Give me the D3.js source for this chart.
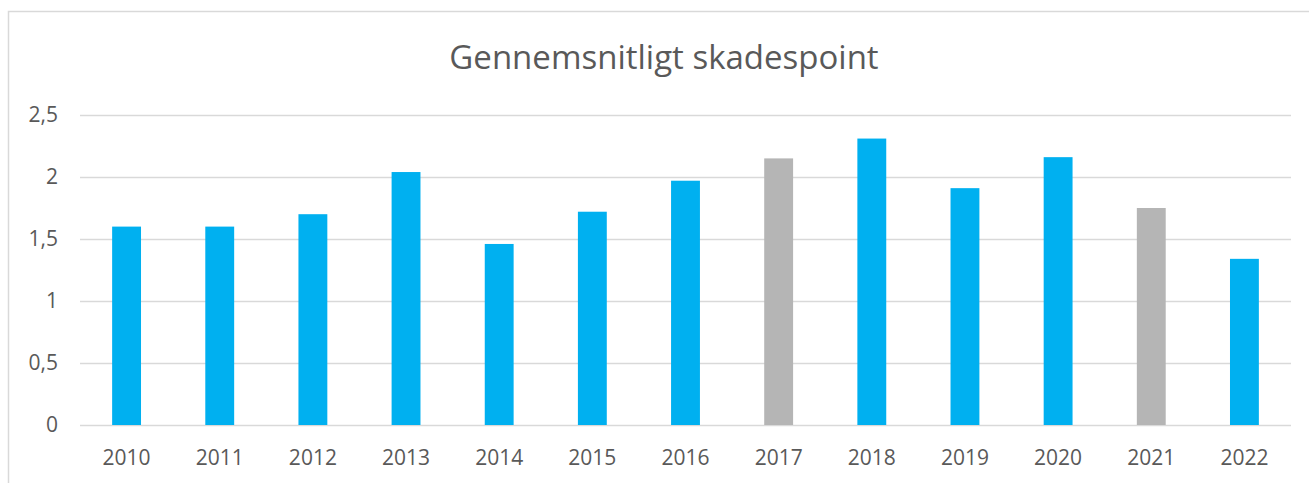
<!DOCTYPE html>
<html>
<head>
<meta charset="utf-8">
<script src="https://cdn.jsdelivr.net/npm/d3@7"></script>
<style>
    body { margin: 0; background: #fff; }
    svg text { font-family: "Open Sans", sans-serif; fill: #595959; }
</style>
</head>
<body>
<div id="chart"></div>
<script>
// data
const years = ["2010", "2011", "2012", "2013", "2014", "2015", "2016",
               "2017", "2018", "2019", "2020", "2021", "2022"];
const points = [1.60, 1.60, 1.70, 2.04, 1.46, 1.72, 1.97,
                2.15, 2.31, 1.91, 2.16, 1.75, 1.34];
const greyYears = ["2017", "2021"];
const yTicks = [0, 0.5, 1, 1.5, 2, 2.5];
const title = "Gennemsnitligt skadespoint";

const W = 1309, H = 483;
const plot = { left: 80, right: 1291, top: 115, bottom: 425 };

const svg = d3.select("#chart")
    .append("svg")
    .attr("width", W)
    .attr("height", H);

// chart frame (only left and top edges are visible)
svg.append("path")
    .attr("d", `M8.5,${H} V11.5 H${W}`)
    .attr("fill", "none")
    .attr("stroke", "#d9d9d9")
    .attr("stroke-width", 1.5);

const x = d3.scaleBand()
    .domain(years)
    .range([plot.left, plot.right])
    .paddingInner(0.69)
    .paddingOuter(0.345);

const y = d3.scaleLinear()
    .domain([0, 2.5])
    .range([plot.bottom, plot.top]);

const fmt = d => d3.format("")(d).replace(".", ",");

// gridlines + y labels
const yAxis = svg.append("g")
    .attr("transform", `translate(${plot.left},0)`)
    .call(d3.axisLeft(y).tickValues(yTicks).tickSize(-(plot.right - plot.left)).tickFormat(fmt).tickPadding(22));
yAxis.select(".domain").remove();
yAxis.selectAll(".tick line")
    .attr("stroke", "#d9d9d9")
    .attr("stroke-width", 1.5);
yAxis.selectAll(".tick text")
    .style("font-size", "21px")
    .attr("fill", "#595959");
yAxis.attr("font-family", null);

// bars
svg.append("g")
    .selectAll("rect")
    .data(years.map((yr, i) => ({ year: yr, value: points[i] })))
    .join("rect")
    .attr("x", d => x(d.year))
    .attr("y", d => y(d.value))
    .attr("width", x.bandwidth())
    .attr("height", d => y(0) - y(d.value))
    .attr("fill", d => greyYears.includes(d.year) ? "#b5b5b5" : "#00b0f0");

// x labels
const xAxis = svg.append("g")
    .attr("transform", `translate(0,${plot.bottom})`)
    .call(d3.axisBottom(x).tickSize(0).tickPadding(25));
xAxis.select(".domain").remove();
xAxis.selectAll(".tick text")
    .style("font-size", "21px")
    .attr("fill", "#595959");
xAxis.attr("font-family", null);

// title
svg.append("text")
    .attr("x", 664)
    .attr("y", 69)
    .attr("text-anchor", "middle")
    .style("font-size", "33px")
    .text(title);
</script>
</body>
</html>
